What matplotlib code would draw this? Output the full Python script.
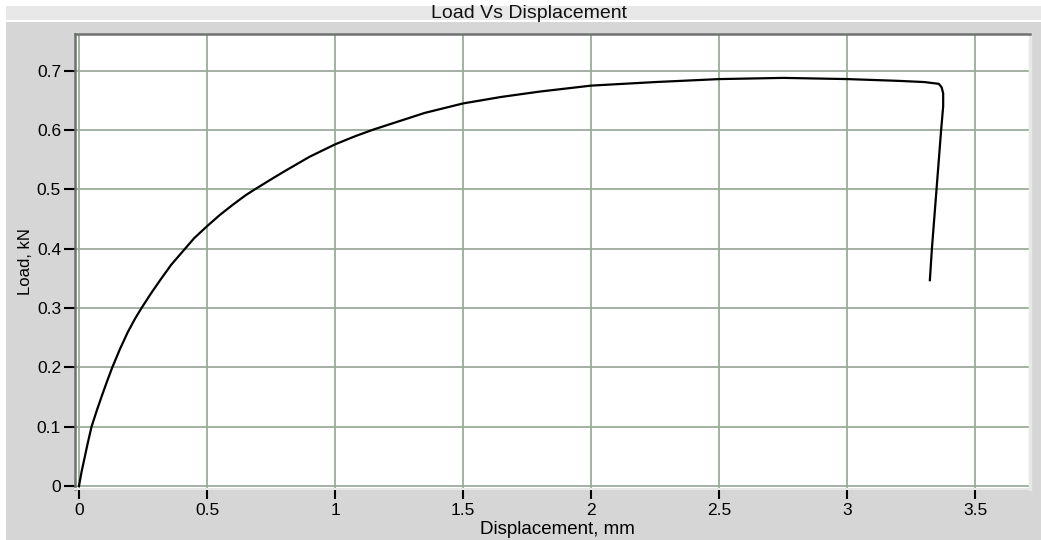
import matplotlib.pyplot as plt
from matplotlib.patches import Rectangle

plt.rcParams['font.family'] = ['Liberation Sans', 'DejaVu Sans']

# values
displacement = [0, 0.01, 0.023, 0.035, 0.049, 0.07, 0.09, 0.11, 0.13, 0.16,
                0.19, 0.22, 0.244, 0.28, 0.32, 0.36, 0.41, 0.45, 0.5, 0.55,
                0.6, 0.65, 0.686, 0.75, 0.8, 0.9, 1.0, 1.08, 1.15, 1.25,
                1.35, 1.5, 1.65, 1.8, 2.0, 2.25, 2.5, 2.75, 3.0, 3.2,
                3.3, 3.357, 3.368, 3.374, 3.374, 3.366, 3.348, 3.33, 3.322]
load = [0, 0.024, 0.05, 0.074, 0.1, 0.128, 0.153, 0.177, 0.2, 0.231,
        0.259, 0.283, 0.3, 0.324, 0.349, 0.373, 0.398, 0.418, 0.438, 0.457,
        0.474, 0.49, 0.5, 0.517, 0.53, 0.555, 0.576, 0.59, 0.601, 0.615,
        0.629, 0.645, 0.656, 0.665, 0.675, 0.681, 0.686, 0.688, 0.686, 0.683,
        0.681, 0.678, 0.672, 0.662, 0.64, 0.6, 0.5, 0.4, 0.347]

x_ticks = [0, 0.5, 1, 1.5, 2, 2.5, 3, 3.5]
x_tick_labels = ['0', '0.5', '1', '1.5', '2', '2.5', '3', '3.5']
y_ticks = [0, 0.1, 0.2, 0.3, 0.4, 0.5, 0.6, 0.7]
y_tick_labels = ['0', '0.1', '0.2', '0.3', '0.4', '0.5', '0.6', '0.7']

W, H = 1041, 540
fig = plt.figure(figsize=(W / 100, H / 100), dpi=100, facecolor='white')

# window-like background: title band and gray frame
fig.patches.append(Rectangle((6 / W, 1 - 20 / H), 1, 14 / H, transform=fig.transFigure,
                             facecolor='#e8e8e8', edgecolor='none', zorder=-10))
fig.patches.append(Rectangle((6 / W, 0), 1, 1 - 22 / H, transform=fig.transFigure,
                             facecolor='#d6d6d6', edgecolor='none', zorder=-10))
fig.text(529 / W, 1 - 13 / H, 'Load Vs Displacement', ha='center', va='center',
         fontsize=14, color='#111111')

ax = fig.add_axes([75 / W, 1 - 489 / H, (1030 - 75) / W, (489 - 34) / H])
ax.set_facecolor('white')
ax.plot(displacement, load, color='black', lw=1.6, zorder=3)

ax.set_xlim(-0.0156, 3.713)
ax.set_ylim(-0.005, 0.762)
ax.set_xticks(x_ticks)
ax.set_xticklabels(x_tick_labels)
ax.set_yticks(y_ticks)
ax.set_yticklabels(y_tick_labels)
ax.grid(True, color='#9bab9b', lw=1.3)
ax.set_axisbelow(True)

ax.spines['left'].set_color('#707070')
ax.spines['top'].set_color('#707070')
ax.spines['left'].set_linewidth(1.8)
ax.spines['top'].set_linewidth(1.8)
ax.spines['right'].set_color('#e8e8e8')
ax.spines['right'].set_linewidth(2.5)
ax.spines['bottom'].set_color('#e8e8e8')
ax.spines['bottom'].set_linewidth(1.5)

ax.tick_params(axis='y', direction='out', length=8, width=1.5, color='black',
               labelsize=12.5, pad=2)
ax.tick_params(axis='x', direction='out', length=7, width=1.5, color='black',
               labelsize=12.5, pad=3)

ax.set_xlabel('Displacement, mm', fontsize=13.5, labelpad=0)
ax.set_ylabel('Load, kN', fontsize=12, labelpad=0)
ax.yaxis.set_label_coords((33 - 75) / (1030 - 75), 0.5)
ax.xaxis.set_label_coords((557 - 75) / (1030 - 75), -0.07)

fig.savefig('out.png', dpi=100, facecolor=fig.get_facecolor())
